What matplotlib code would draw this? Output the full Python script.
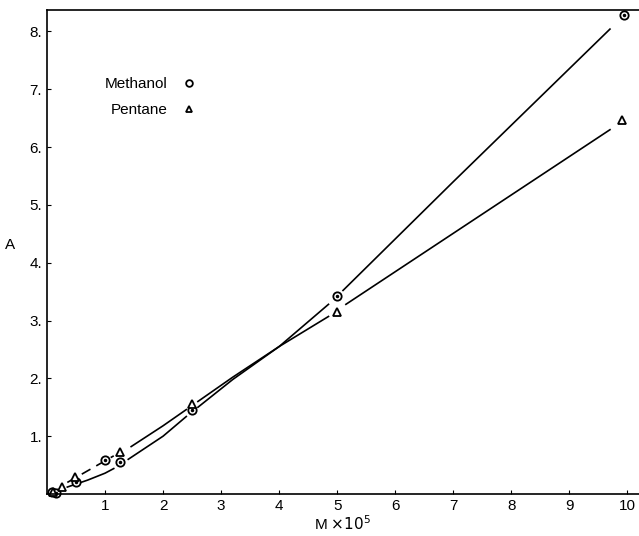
import numpy as np
from matplotlib import pyplot as plt

# measured points (M x 10^5, absorbance A)
meth_x = [0.08, 0.15, 0.5, 1.0, 1.25, 2.5, 5.0, 9.95]
meth_y = [0.03, 0.02, 0.2, 0.59, 0.55, 1.45, 3.42, 8.28]
pent_x = [0.1, 0.26, 0.48, 1.25, 2.5, 5.0, 9.9]
pent_y = [0.04, 0.12, 0.29, 0.73, 1.56, 3.15, 6.47]

# hand-drawn fitted curves (pieces between gaps)
meth_curve = [
    ([0.35, 0.7, 1.0, 1.15], [0.12, 0.24, 0.36, 0.44]),
    ([1.4, 2.0, 2.4], [0.6, 1.0, 1.34]),
    ([2.6, 3.2, 4.0, 4.85], [1.5, 1.98, 2.55, 3.28]),
    ([5.1, 7.0, 9.7], [3.52, 5.4, 8.04]),
]
pent_dash = ([0.35, 1.15], [0.2, 0.66])
pent_curve = [
    ([1.45, 2.0, 2.4], [0.82, 1.18, 1.46]),
    ([2.6, 3.2, 4.0, 4.85], [1.6, 2.02, 2.55, 3.07]),
    ([5.15, 9.7], [3.28, 6.3]),
]

xticks = [1, 2, 3, 4, 5, 6, 7, 8, 9, 10]
yticks = [1, 2, 3, 4, 5, 6, 7, 8]

plt.rcParams['font.family'] = ['Liberation Sans', 'DejaVu Sans']

fig = plt.figure(figsize=(6.39, 5.36), dpi=100)
ax = fig.add_axes([47 / 639, 42 / 536, 592 / 639, 484 / 536])

for xs, ys in meth_curve:
    ax.plot(xs, ys, color='black', lw=1.2)
ax.plot(pent_dash[0], pent_dash[1], color='black', lw=1.2, dashes=(6, 4))
for xs, ys in pent_curve:
    ax.plot(xs, ys, color='black', lw=1.2)

ax.plot(meth_x, meth_y, 'o', ms=6, mfc='white', mec='black', mew=1.3,
        clip_on=False, label='Methanol')
ax.plot(meth_x, meth_y, '.', ms=3, color='black', clip_on=False)
ax.plot(pent_x, pent_y, '^', ms=6, mfc='white', mec='black', mew=1.3,
        clip_on=False, label='Pentane')

ax.set_xlim(0, 10.2)
ax.set_ylim(0, 8.37)
ax.set_xticks(xticks)
ax.set_xticklabels([str(t) for t in xticks])
ax.set_yticks(yticks)
ax.set_yticklabels([str(t) + '.' for t in yticks])
ax.tick_params(direction='in', length=3, labelsize=11)
ax.spines['right'].set_visible(False)
for s in ['left', 'bottom', 'top']:
    ax.spines[s].set_linewidth(1.2)

ax.set_xlabel(r'M $\times 10^5$', fontsize=11, labelpad=1)
ax.set_ylabel('A', fontsize=11, rotation=0, labelpad=14)

ax.legend(frameon=False, markerfirst=False, loc='upper left',
          bbox_to_anchor=(0.075, 0.89), fontsize=11, handlelength=1.2,
          handletextpad=0.8, markerscale=0.8, labelspacing=0.8)

plt.savefig('out.png', dpi=100)
